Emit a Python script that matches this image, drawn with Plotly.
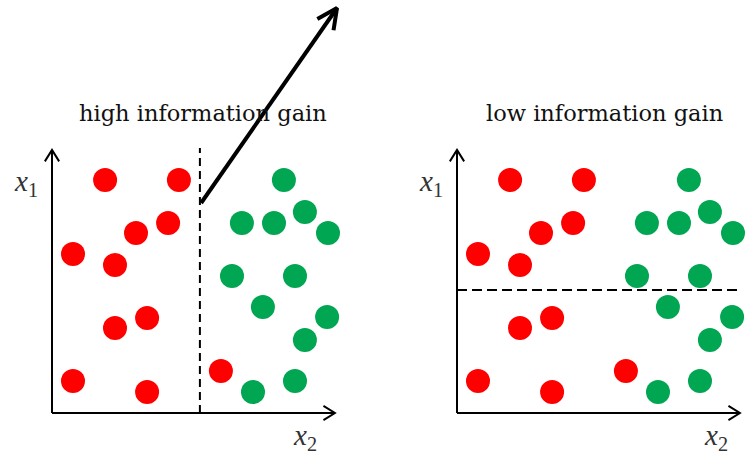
import math
import plotly.graph_objects as go

# ---------------- data (same point cloud in both panels) ----------------
red_x = [1.77, 4.23, 3.87, 2.80, 0.70, 2.10, 2.10, 3.17, 0.70, 3.17, 5.63]
red_y = [7.77, 7.77, 6.33, 6.00, 5.30, 4.93, 2.83, 3.17, 1.07, 0.70, 1.40]
green_x = [7.73, 8.43, 6.33, 7.40, 9.20, 6.00, 8.10, 7.03, 9.17, 8.43, 8.10, 6.70]
green_y = [7.77, 6.70, 6.33, 6.33, 6.00, 4.57, 4.57, 3.53, 3.20, 2.43, 1.07, 0.70]

panel_titles = ["high information gain", "low information gain"]
split_x_left = 4.93      # vertical split (high gain)
split_y_right = 4.10     # horizontal split (low gain)

# axis extents (data units)
x_axis_len = [9.43, 9.43]
y_axis_len = 8.77
split_line_top = 8.83
split_line_right = 9.50

# big arrow (left panel, data units)
big_arrow_start = (4.97, 7.00)
big_arrow_end = (9.50, 13.50)

RED = "#ff0000"
GREEN = "#00a651"
SERIF = "DejaVu Serif, Liberation Serif, serif"
MATH = "Liberation Serif, DejaVu Serif, serif"

fig = go.Figure()


def add_arrow(xs, ys, xe, ye, xa, ya, width, head_len, head_ang):
    fig.add_trace(go.Scatter(x=[xs, xe], y=[ys, ye], mode="lines",
                             line=dict(color="black", width=width),
                             xaxis=xa, yaxis=ya, hoverinfo="skip", showlegend=False))
    ang = math.atan2(ys - ye, xs - xe)
    a1 = ang + math.radians(head_ang)
    a2 = ang - math.radians(head_ang)
    hx = [xe + head_len * math.cos(a1), xe, xe + head_len * math.cos(a2)]
    hy = [ye + head_len * math.sin(a1), ye, ye + head_len * math.sin(a2)]
    fig.add_trace(go.Scatter(x=hx, y=hy, mode="lines",
                             line=dict(color="black", width=width),
                             xaxis=xa, yaxis=ya, hoverinfo="skip", showlegend=False))


axes_ids = [("x", "y"), ("x2", "y2")]
for i, (xa, ya) in enumerate(axes_ids):
    add_arrow(0, 0, x_axis_len[i], 0, xa, ya, 2, 0.45, 32)
    add_arrow(0, 0, 0, y_axis_len, xa, ya, 2, 0.45, 32)
    fig.add_trace(go.Scatter(x=red_x, y=red_y, mode="markers",
                             marker=dict(color=RED, size=24, line=dict(width=0)),
                             xaxis=xa, yaxis=ya, cliponaxis=False, showlegend=False))
    fig.add_trace(go.Scatter(x=green_x, y=green_y, mode="markers",
                             marker=dict(color=GREEN, size=24, line=dict(width=0)),
                             xaxis=xa, yaxis=ya, cliponaxis=False, showlegend=False))

fig.add_trace(go.Scatter(x=[split_x_left, split_x_left], y=[0, split_line_top], mode="lines",
                         line=dict(color="black", width=2, dash="8px,5px"),
                         xaxis="x", yaxis="y", hoverinfo="skip", showlegend=False))
fig.add_trace(go.Scatter(x=[0, split_line_right], y=[split_y_right, split_y_right], mode="lines",
                         line=dict(color="black", width=2, dash="10px,5px"),
                         xaxis="x2", yaxis="y2", hoverinfo="skip", showlegend=False))

add_arrow(big_arrow_start[0], big_arrow_start[1], big_arrow_end[0], big_arrow_end[1],
          "x", "y", 4, 0.75, 26)

annotations = []
title_x = [5.03, 4.90]
x2_label_x = [8.43, 8.63]
for i, (xa, ya) in enumerate(axes_ids):
    annotations.append(dict(x=title_x[i], y=10.0, xref=xa, yref=ya, text=panel_titles[i],
                            showarrow=False, font=dict(family=SERIF, size=22.5, color="#111")))
    annotations.append(dict(x=-0.87, y=7.67, xref=xa, yref=ya, text="<i>x</i><sub>1</sub>",
                            showarrow=False, font=dict(family=MATH, size=29, color="#333")))
    annotations.append(dict(x=x2_label_x[i], y=-0.80, xref=xa, yref=ya, text="<i>x</i><sub>2</sub>",
                            showarrow=False, font=dict(family=MATH, size=29, color="#333")))

hidden = dict(visible=False, showgrid=False, zeroline=False, fixedrange=True)
fig.update_layout(
    width=750, height=454,
    margin=dict(l=0, r=0, t=0, b=0),
    paper_bgcolor="white", plot_bgcolor="white",
    xaxis=dict(domain=[0, 0.5], range=[-52 / 30, (375 - 52) / 30], **hidden),
    yaxis=dict(domain=[0, 1], range=[(413 - 454) / 30, 413 / 30], **hidden),
    xaxis2=dict(domain=[0.5, 1], range=[(375 - 457) / 30, (750 - 457) / 30], anchor="y2", **hidden),
    yaxis2=dict(domain=[0, 1], range=[(413 - 454) / 30, 413 / 30], anchor="x2", **hidden),
    annotations=annotations,
    showlegend=False,
)

fig.write_html("out.html", config={"displayModeBar": False},
               post_script="document.body.style.margin='0';document.body.style.overflow='hidden';")
